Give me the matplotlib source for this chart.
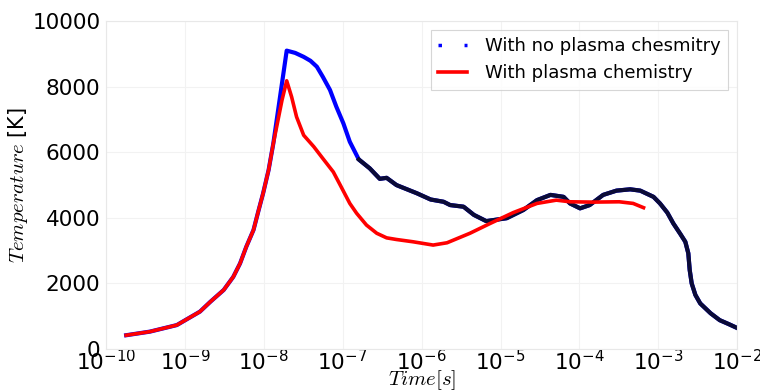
import numpy as np
import matplotlib
matplotlib.use("Agg")
import matplotlib.pyplot as plt
from matplotlib.lines import Line2D

plt.rcParams['mathtext.fontset'] = 'cm'

# Time [s] and temperature [K]
t_chem = [1.8e-10, 3.6e-10, 7.9e-10, 1.55e-9, 2.1e-9, 3.1e-9, 4.1e-9, 5.0e-9,
          6.0e-9, 7.4e-9, 8.5e-9, 9.8e-9, 1.15e-8, 1.32e-8, 1.7e-8, 1.95e-8,
          2.25e-8, 2.6e-8, 3.2e-8, 4.3e-8, 5.6e-8, 7.6e-8, 9.3e-8, 1.23e-7,
          1.5e-7, 2.0e-7, 2.7e-7, 3.6e-7, 4.8e-7, 7.8e-7, 1.4e-6, 2.1e-6,
          4.1e-6, 7.4e-6, 1.45e-5, 2.9e-5, 5.1e-5, 7.6e-5, 1.5e-4, 3.2e-4,
          4.8e-4, 6.5e-4]
T_chem = [420, 530, 730, 1140, 1440, 1800, 2200, 2610,
          3120, 3630, 4190, 4750, 5460, 6270, 7590, 8180,
          7690, 7080, 6520, 6170, 5810, 5400, 5000, 4440,
          4140, 3780, 3530, 3390, 3340, 3270, 3170, 3240,
          3530, 3830, 4160, 4440, 4540, 4490, 4480, 4490,
          4440, 4310]

t_nochem = [1.8e-10, 3.6e-10, 7.9e-10, 1.55e-9, 2.1e-9, 3.1e-9, 4.1e-9, 5.0e-9,
            6.0e-9, 7.4e-9, 8.5e-9, 9.8e-9, 1.15e-8, 1.32e-8, 1.95e-8, 2.5e-8,
            3.2e-8, 3.9e-8, 4.7e-8, 5.6e-8, 6.9e-8, 8.3e-8, 1.02e-7, 1.23e-7,
            1.6e-7, 2.2e-7, 2.95e-7, 3.6e-7, 4.8e-7, 5.4e-7, 8.7e-7, 1.3e-6,
            1.9e-6, 2.3e-6, 3.4e-6, 4.6e-6, 6.6e-6, 1.2e-5, 1.95e-5, 2.9e-5,
            4.3e-5, 6.3e-5, 7.6e-5, 1.02e-4, 1.35e-4, 2.0e-4, 2.95e-4, 4.4e-4,
            5.9e-4, 8.7e-4, 1.05e-3, 1.3e-3, 1.55e-3, 1.9e-3, 2.2e-3, 2.4e-3,
            2.5e-3, 2.65e-3, 2.95e-3, 3.4e-3, 4.6e-3, 6.0e-3, 7.8e-3, 1.0e-2]
T_nochem = [420, 530, 730, 1140, 1440, 1800, 2200, 2610,
            3120, 3630, 4190, 4750, 5460, 6270, 9100, 9030,
            8910, 8790, 8610, 8300, 7900, 7390, 6880, 6320,
            5780, 5510, 5190, 5220, 5000, 4950, 4750, 4560,
            4490, 4390, 4340, 4090, 3900, 3990, 4240, 4540,
            4700, 4640, 4440, 4290, 4390, 4700, 4830, 4870,
            4830, 4640, 4440, 4160, 3830, 3510, 3270, 2920,
            2410, 2000, 1650, 1390, 1090, 880, 760, 640]

fig = plt.figure(figsize=(7.6, 3.91), dpi=100)
ax = fig.add_axes([0.1395, 0.1074, 0.8305, 0.8386])

t_nochem = np.array(t_nochem)
T_nochem = np.array(T_nochem)
late = t_nochem >= 1.6e-7

ax.plot(t_nochem, T_nochem, color='#0000ff', lw=3.0)
ax.plot(t_nochem[late], T_nochem[late], color='#0b0b36', lw=3.0)
ax.plot(t_chem, T_chem, color='#ff0000', lw=2.6)

ax.set_xscale('log')
ax.set_xlim(1e-10, 1e-2)
ax.set_ylim(0, 10000)
ax.set_xticks([10.0 ** k for k in range(-10, -1)])
ax.minorticks_off()
ax.set_yticks(np.arange(0, 10001, 2000))
ax.tick_params(length=0, labelsize=15.5)
ax.tick_params(axis='x', pad=0)
ax.tick_params(axis='y', pad=4)

ax.grid(True, color='#f2f2f2', lw=0.8)
for s in ax.spines.values():
    s.set_color('#e8e8e8')
    s.set_linewidth(0.8)

ax.set_xlabel('$Time [s]$', fontsize=15, labelpad=-4)
ax.set_ylabel('$Temperature$ [K]', fontsize=15, labelpad=2)

handles = [Line2D([], [], color='#0000ff', lw=2.5, linestyle=(0, (1, 6.5))),
           Line2D([], [], color='#ff0000', lw=2.6)]
leg = ax.legend(handles, ['With no plasma chesmitry', 'With plasma chemistry'],
                loc='upper right', fontsize=13, fancybox=False,
                handlelength=1.6, handletextpad=1.0, borderaxespad=0.5)
leg.get_frame().set_edgecolor('#cccccc')
leg.get_frame().set_linewidth(0.8)

fig.savefig('out.png', dpi=100)
